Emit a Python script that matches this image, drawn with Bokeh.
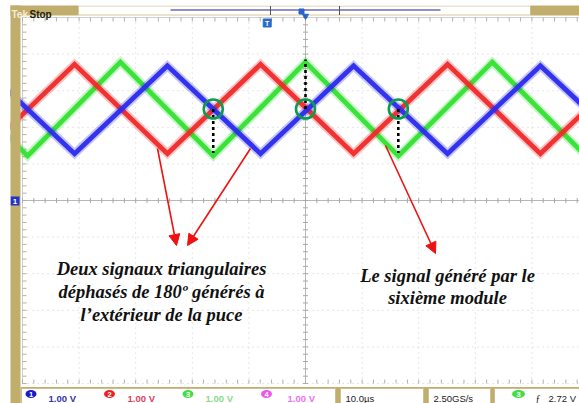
import numpy as np
from bokeh.plotting import figure
from bokeh.models import Range1d, Arrow, NormalHead
from bokeh.core.properties import value
from bokeh.embed import file_html
from bokeh.resources import INLINE

# ---------------- data ----------------
time_grid_us = [-50, -40, -30, -20, -10, 10, 20, 30, 40, 50]   # 10.0 us / div
volt_grid = [-5, -4, -3, -2, -1, 1, 2, 3, 4, 5]                 # 1.00 V / div

red_t = [-57.2, -40.8, -24.4, -7.95, 8.5, 25.1, 41.5, 58.0]
red_v = [1.28, 3.72, 1.28, 3.72, 1.28, 3.72, 1.28, 3.72]

green_t = [-65.5, -49.1, -32.7, -16.3, 0.0, 16.4, 33.0, 49.5]
green_v = [3.78, 1.22, 3.78, 1.22, 3.78, 1.22, 3.78, 1.22]

blue_t = [-57.2, -40.8, -24.4, -7.95, 8.5, 25.1, 41.5, 58.0]
blue_v = [3.68, 1.28, 3.68, 1.28, 3.68, 1.28, 3.68, 1.28]

mark_t = [-16.3, 0.0, 16.4]      # circled crossing points
mark_v = [2.5, 2.5, 2.5]
drop_v = [1.3, 3.85, 1.3]        # end of the dashed drop lines

note_left = ["Deux signaux triangulaires",
             "déphasés de 180º générés à",
             "l’extérieur de la puce"]
note_right = ["Le signal généré par le", "sixième module"]

channel_ids = ["1", "2", "3", "4"]
channel_scales = ["1.00 V", "1.00 V", "1.00 V", "1.00 V"]
timebase_label = "10.0µs"
sample_label = "2.50GS/s"
trigger_channel = "3"
trigger_label = "2.72 V"

# ---------------- screenshot pixel -> data helpers (for chrome) ----------------
X0, Y0 = 305.0, 200.0
PX_PER_US = 5.66
PX_PER_V = 36.6


def tx(X):
    return (X - X0) / PX_PER_US


def vy(Y):
    return (Y0 - Y) / PX_PER_V


TAN = "#c1ae6c"
RED = "#f02a2a"
GREEN = "#33e033"
BLUE = "#2b2bee"

# frame covers screenshot x 10..579, y 5..403 ; a white border is left/top of it
p = figure(width=579, height=403,
           x_range=Range1d(tx(10), tx(579)), y_range=Range1d(vy(403), vy(5)),
           x_axis_location=None, y_axis_location=None,
           toolbar_location=None, output_backend="svg",
           min_border_left=10, min_border_top=5, min_border_right=0, min_border_bottom=0,
           background_fill_color="white", border_fill_color="white",
           outline_line_color=None)
p.grid.visible = False

# ---------------- graticule ----------------
n = len(time_grid_us)
p.segment(x0=time_grid_us, y0=[-5] * n, x1=time_grid_us, y1=[5] * n,
          line_color="#cdcdcd", line_width=1, line_dash="1 4")
m = len(volt_grid)
p.segment(x0=[-50] * m, y0=volt_grid, x1=[50] * m, y1=volt_grid,
          line_color="#cdcdcd", line_width=1, line_dash="1 4")
# centre cross
p.segment(x0=[0, -50], y0=[-5, 0], x1=[0, 50], y1=[5, 0],
          line_color="#b8b8b8", line_width=1)
# edges
p.segment(x0=[-50, -50], y0=[-5, 5], x1=[-50, 50], y1=[5, 5],
          line_color="#cfcfcf", line_width=1)
minor_t = np.arange(-50, 50.001, 2.0)
minor_v = np.arange(-5, 5.001, 0.2)
dv = 2.5 / PX_PER_V
dt = 2.5 / PX_PER_US
p.segment(x0=minor_t, y0=-dv, x1=minor_t, y1=dv, line_color="#a8a8a8", line_width=1)
p.segment(x0=-dt, y0=minor_v, x1=dt, y1=minor_v, line_color="#a8a8a8", line_width=1)
p.segment(x0=minor_t, y0=5, x1=minor_t, y1=5 - 1.6 * dv, line_color="#b0b0b0", line_width=1)
p.segment(x0=minor_t, y0=-5, x1=minor_t, y1=-5 + 1.6 * dv, line_color="#b0b0b0", line_width=1)
p.segment(x0=-50, y0=minor_v, x1=-50 + 1.6 * dt, y1=minor_v, line_color="#b0b0b0", line_width=1)

# ---------------- traces ----------------
for tt, vv, col in [(green_t, green_v, GREEN), (red_t, red_v, RED), (blue_t, blue_v, BLUE)]:
    p.line(tt, vv, line_color=col, line_width=8.5, line_alpha=0.28, line_join="miter")
    p.line(tt, vv, line_color=col, line_width=4.8, line_alpha=0.95, line_join="miter")

# ---------------- annotations ----------------
p.segment(x0=mark_t, y0=mark_v, x1=mark_t, y1=drop_v,
          line_color="black", line_width=2.6, line_dash="3 3")
p.scatter(mark_t, mark_v, marker="circle", size=19, fill_alpha=0,
          line_color="#0c9c50", line_width=2.6)

for (xs, ys, xe, ye) in [(157, 148, 176, 245), (250, 148, 187, 245), (385, 145, 435, 253)]:
    p.add_layout(Arrow(end=NormalHead(size=11, fill_color="#ee1111", line_color="#ee1111"),
                       x_start=tx(xs), y_start=vy(ys), x_end=tx(xe), y_end=vy(ye),
                       line_color="#ee1111", line_width=1.6))

serif = dict(text_font=value("Liberation Serif"), text_font_style="bold italic",
             text_font_size=value("18.5px"), text_color="#111111",
             text_align="center", text_baseline="alphabetic")
p.text(x=[tx(161)] * 3, y=[vy(268), vy(291.5), vy(314)], text=note_left, **serif)
p.text(x=[tx(447)] * 2, y=[vy(275), vy(297.5)], text=note_right, **serif)

# ---------------- scope chrome ----------------
sans_b = dict(text_font=value("Liberation Sans"), text_font_style="bold")
# left strip
p.quad(left=tx(9), right=tx(20), bottom=vy(405), top=vy(4), fill_color=TAN, line_color=None)
# channel 1 ground marker
p.quad(left=tx(10), right=tx(19), bottom=vy(205), top=vy(196), fill_color="#2233cc", line_color=None)
p.text(x=[tx(14.5)], y=[vy(200.5)], text=[channel_ids[0]], text_color="white",
       text_font_size=value("8px"), text_align="center", text_baseline="middle", **sans_b)
# top bar
p.quad(left=tx(9), right=tx(78), bottom=vy(15), top=vy(4), fill_color=TAN, line_color=None)
p.quad(left=tx(78), right=tx(530), bottom=vy(14.5), top=vy(5.5), fill_color="white",
       line_color="#d4c89c", line_width=1)
p.quad(left=tx(530), right=tx(582), bottom=vy(15), top=vy(4), fill_color=TAN, line_color=None)
p.segment(x0=tx(170), y0=vy(9.5), x1=tx(440), y1=vy(9.5), line_color="#6b6bb3", line_width=1.5)
p.segment(x0=[tx(270), tx(339)], y0=vy(5.5), x1=[tx(270), tx(339)], y1=vy(14.5),
          line_color="#555555", line_width=1)
p.scatter([tx(301)], [vy(11)], marker="square", size=5, color="#2a62cc")
p.scatter([tx(305)], [vy(15.5)], marker="inverted_triangle", size=6, color="#2a62cc")
p.scatter([tx(266.7)], [vy(22.5)], marker="square", size=8, color="#2a6acc")
p.text(x=[tx(266.7)], y=[vy(22.5)], text=["T"], text_color="white", text_font_size=value("7px"),
       text_align="center", text_baseline="middle", **sans_b)
p.text(x=[tx(11)], y=[vy(14)], text=["Tek"], text_color="#f3ecd2", text_font_size=value("10px"),
       text_baseline="alphabetic", **sans_b)
p.text(x=[tx(29)], y=[vy(14)], text=["Stop"], text_color="#1e1e0a", text_font_size=value("10px"),
       text_baseline="alphabetic", **sans_b)

# status bar
p.quad(left=tx(20), right=tx(582), bottom=vy(405), top=vy(386.5), fill_color=TAN, line_color=None)
box_l = [21, 340, 428, 494]
box_r = [335, 423, 490, 585]
p.quad(left=[tx(v) for v in box_l], right=[tx(v) for v in box_r], bottom=vy(405), top=vy(388),
       fill_color="white", line_color="#cbbf93", line_width=1)

badge_x = [30.5, 109, 187.5, 266]
badge_c = ["#1a1acc", "#ee2222", "#44dd44", "#ee55ee"]
label_x = [48, 127, 205, 287]
label_c = ["#3535a8", "#e0405e", "#88dd88", "#f070f0"]
p.ellipse(x=[tx(v) for v in badge_x], y=vy(393.5), width=11, height=8,
          width_units="screen", height_units="screen", fill_color=badge_c, line_color=None)
p.text(x=[tx(v) for v in badge_x], y=vy(393.5), text=channel_ids, text_color="white",
       text_font_size=value("7.5px"), text_align="center", text_baseline="middle", **sans_b)
p.text(x=[tx(v) for v in label_x], y=vy(397.5), text=channel_scales, text_color=label_c,
       text_font_size=value("9.5px"), text_baseline="alphabetic", **sans_b)

p.text(x=[tx(345), tx(433)], y=vy(397.5), text=[timebase_label, sample_label], text_color="#222222",
       text_font=value("Liberation Sans"), text_font_size=value("9.5px"), text_baseline="alphabetic")
p.ellipse(x=[tx(518)], y=vy(393.5), width=13, height=8, width_units="screen", height_units="screen",
          fill_color="#44dd44", line_color=None)
p.text(x=[tx(518)], y=vy(393.5), text=[trigger_channel], text_color="white",
       text_font_size=value("7.5px"), text_align="center", text_baseline="middle", **sans_b)
p.text(x=[tx(535)], y=vy(397.5), text=["ƒ"], text_color="#222222",
       text_font=value("Liberation Serif"), text_font_size=value("10px"), text_baseline="alphabetic")
p.text(x=[tx(548)], y=vy(397.5), text=[trigger_label], text_color="#222222",
       text_font=value("Liberation Sans"), text_font_size=value("9.5px"), text_baseline="alphabetic")

open("out.html", "w").write(file_html(p, INLINE))
